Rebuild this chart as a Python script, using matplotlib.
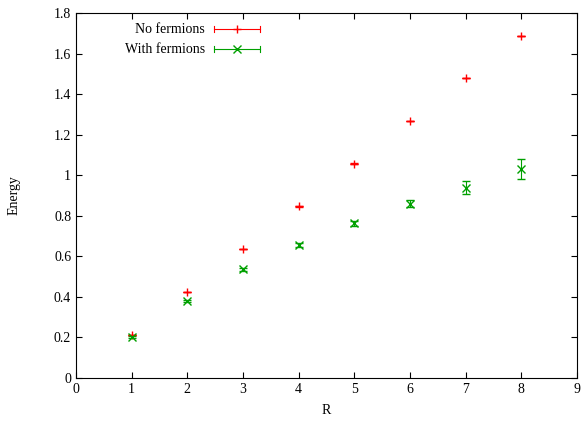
import matplotlib
matplotlib.use('Agg')
import numpy as np
import matplotlib.pyplot as plt
from matplotlib.ticker import FuncFormatter

# data
R = [1, 2, 3, 4, 5, 6, 7, 8]
e_nofer = [0.211, 0.423, 0.635, 0.846, 1.057, 1.266, 1.478, 1.687]
err_nofer = [0.001, 0.001, 0.001, 0.001, 0.001, 0.001, 0.001, 0.001]
e_fer = [0.201, 0.380, 0.537, 0.655, 0.763, 0.860, 0.938, 1.030]
err_fer = [0.005, 0.006, 0.007, 0.009, 0.011, 0.019, 0.031, 0.051]

red = '#ff0000'
green = '#00a000'

plt.rcParams['font.family'] = ['Liberation Serif', 'DejaVu Serif']
plt.rcParams['font.size'] = 10

fig = plt.figure(figsize=(5.82, 4.23), dpi=100)
ax = fig.add_axes([0.1306, 0.1064, 0.8608, 0.8629])

ax.errorbar(R, e_nofer, yerr=err_nofer, fmt='+', color=red, ms=6,
            mew=1.0, elinewidth=0.8, capsize=3, capthick=0.8)
ax.errorbar(R, e_fer, yerr=err_fer, fmt='x', color=green, ms=6,
            mew=1.0, elinewidth=0.8, capsize=3, capthick=0.8)

ax.set_xlim(0, 9)
ax.set_ylim(0, 1.8)
ax.set_xticks(np.arange(0, 10, 1))
ax.set_yticks(np.arange(0, 1.81, 0.2))
ax.yaxis.set_major_formatter(FuncFormatter(lambda v, p: '%g' % round(v, 2)))
ax.tick_params(direction='in', top=True, right=True, length=4, width=0.8)
for s in ax.spines.values():
    s.set_linewidth(0.8)
ax.set_xlabel('R', labelpad=6)
ax.set_ylabel('Energy', labelpad=24)

# gnuplot style key
keys = [('No fermions', red, '+', 0.956), ('With fermions', green, 'x', 0.901)]
for lab, col, mk, yk in keys:
    ax.text(0.2575, yk, lab, transform=ax.transAxes, ha='right', va='center')
    ax.plot([0.2754, 0.3673], [yk, yk], color=col, lw=0.8, transform=ax.transAxes)
    for xc in (0.2754, 0.3673):
        ax.plot([xc, xc], [yk - 0.009, yk + 0.009], color=col, lw=0.8,
                transform=ax.transAxes)
    ax.plot([0.3213], [yk], mk, color=col, ms=6, mew=1.0, transform=ax.transAxes)

plt.savefig('out.png', dpi=100)
